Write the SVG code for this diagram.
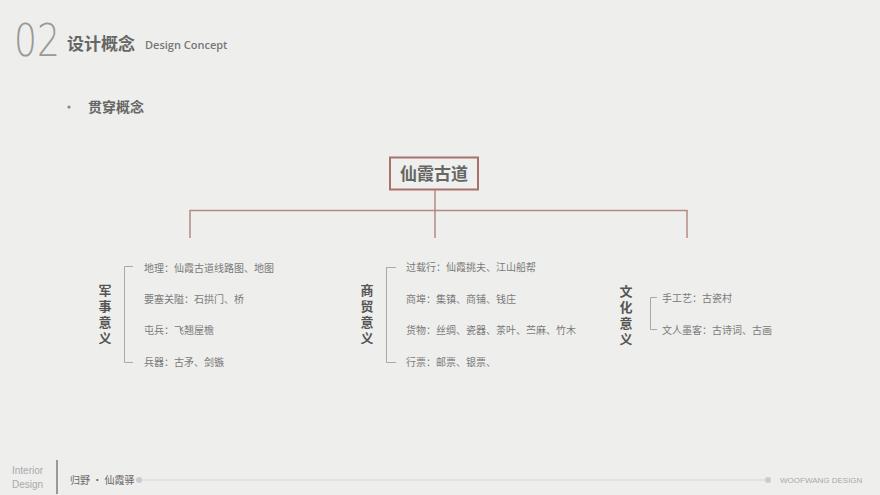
<svg xmlns="http://www.w3.org/2000/svg" width="880" height="495" viewBox="0 0 880 495">
<style>
.cjk{font-family:"Noto Sans CJK SC","Noto Sans",sans-serif}
.item{font-family:"Noto Sans CJK SC",sans-serif;font-size:10px;fill:#7a7a7a}
.cat{font-family:"Noto Sans CJK SC",sans-serif;font-size:13px;font-weight:bold;fill:#555;writing-mode:tb;letter-spacing:3px}
.brk{fill:none;stroke:#a9a9a9;stroke-width:1}
.tree{fill:none;stroke:#b58a86;stroke-width:1.5}
</style>
<rect width="880" height="495" fill="#eeeeec"/>
<g id="header">
<text x="14" y="56" font-family="DejaVu Sans" font-weight="200" font-size="44" fill="#999" transform="translate(14 0) scale(0.82 1) translate(-14 0)">02</text>
<text x="67" y="50" class="cjk" font-size="17" font-weight="bold" fill="#666">设计概念</text>
<text x="145" y="49" font-family="Open Sans" font-weight="600" font-size="11" fill="#777">Design Concept</text>
<circle cx="69" cy="107" r="1.6" fill="#888"/>
<text x="88" y="112" class="cjk" font-size="14" font-weight="bold" fill="#666">贯穿概念</text>
</g>
<g id="root">
<rect x="390" y="157.5" width="88" height="32" fill="#efefed" stroke="#a8716c" stroke-width="2"/>
<text x="434" y="179.5" class="cjk" font-size="17" font-weight="bold" fill="#666" text-anchor="middle">仙霞古道</text>
</g>
<g id="connectors">
<path class="tree" d="M435 190 V238 M190 238 V210.5 H687 V238"/>
<path class="brk" d="M133 266.5 H124.5 V362.5 H133"/>
<path class="brk" d="M396 267.5 H386.5 V362.5 H396"/>
<path class="brk" d="M657 297.5 H650.5 V329.5 H657"/>
</g>
<g id="military">
<text class="cat" x="105" y="284">军事意义</text>
<text class="item" x="144" y="272">地理：仙霞古道线路图、地图</text>
<text class="item" x="144" y="303">要塞关隘：石拱门、桥</text>
<text class="item" x="144" y="334">屯兵：飞翘屋檐</text>
<text class="item" x="144" y="366">兵器：古矛、剑镞</text>
</g>
<g id="trade">
<text class="cat" x="367" y="284">商贸意义</text>
<text class="item" x="406" y="271">过载行：仙霞挑夫、江山船帮</text>
<text class="item" x="406" y="303">商埠：集镇、商铺、钱庄</text>
<text class="item" x="406" y="334">货物：丝绸、瓷器、茶叶、苎麻、竹木</text>
<text class="item" x="406" y="366">行票：邮票、银票、</text>
</g>
<g id="culture">
<text class="cat" x="626" y="285">文化意义</text>
<text class="item" x="662" y="302">手工艺：古瓷村</text>
<text class="item" x="662" y="334">文人墨客：古诗词、古画</text>
</g>
<g id="footer">
<text x="12" y="474" font-family="Liberation Sans" font-size="10" fill="#aaa">Interior</text>
<text x="12" y="488" font-family="Liberation Sans" font-size="10" fill="#aaa">Design</text>
<line x1="57" y1="460" x2="57" y2="494" stroke="#999" stroke-width="2"/>
<text x="70" y="484" class="cjk" font-size="10" fill="#666">归野 · 仙霞驿</text>
<line x1="139" y1="480" x2="768" y2="480" stroke="#d6d6d4" stroke-width="1"/>
<circle cx="139" cy="480" r="3" fill="#ccc"/>
<circle cx="768" cy="480" r="3" fill="#ccc"/>
<text x="780" y="483" font-family="Liberation Sans" font-size="8" fill="#aaa">WOOFWANG DESIGN</text>
</g>
</svg>
